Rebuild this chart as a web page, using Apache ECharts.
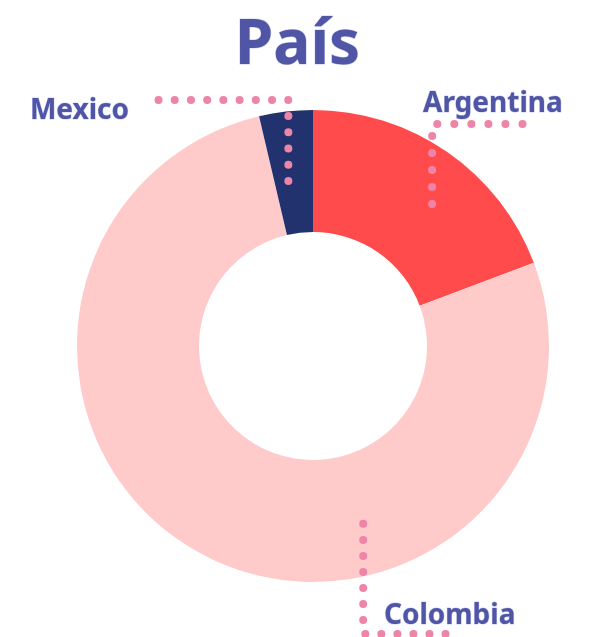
<!DOCTYPE html>
<html><head><meta charset="utf-8">
<script src="https://cdn.jsdelivr.net/npm/echarts@6/dist/echarts.min.js"></script>
<style>html,body{margin:0;padding:0;background:#fff}#c{width:595px;height:637px}</style>
</head><body><div id="c"></div>
<script>
const titleText = 'País';
const categories = ['Argentina', 'Colombia', 'Mexico'];
const values = [21, 84, 4];
const colors = ['#ff4b4b', '#fecbca', '#22326e'];

// label / leader-line layout (style config, pixels)
const labelCfg = [
  { frac: 0.577, rf: 0.785, lineY: 124, endX: 523, x: 423, y: 104, align: 'left' },
  { frac: 0.342, rf: 0.783, lineY: 634, endX: 446, x: 384, y: 616, align: 'left' },
  { frac: 0.357, rf: 0.707, lineY: 100, endX: 158, x: 129, y: 111, align: 'right' }
];
const dotGap = 16.5;

const textColor = '#5055a5';
const font = 'Noto Sans';
const chart = echarts.init(document.getElementById('c'), null, { renderer: 'canvas' });

function linePoints(seriesIndex, i) {
  const cfg = labelCfg[i];
  let lay = null;
  try { lay = chart.getModel().getSeriesByIndex(seriesIndex).getData().getItemLayout(i); } catch (e) {}
  if (!lay) return null;
  const a = lay.startAngle + (lay.endAngle - lay.startAngle) * cfg.frac;
  const r = lay.r * cfg.rf;
  const sx = lay.cx + r * Math.cos(a);
  const sy = lay.cy + r * Math.sin(a);
  return [[sx, sy], [sx, cfg.lineY], [cfg.endX, cfg.lineY]];
}

function layoutLabel(params) {
  const cfg = labelCfg[params.dataIndex];
  const pts = linePoints(params.seriesIndex, params.dataIndex);
  if (!pts) return {};
  return { x: cfg.x, y: cfg.y, align: cfg.align, verticalAlign: 'middle', labelLinePoints: pts };
}

const lineStyleBase = { color: '#ef84a9', width: 8, cap: 'round', opacity: 1 };
function labelData(gaps) {
  return categories.map((c, i) => ({
    name: c, value: values[i], itemStyle: { color: 'rgba(0,0,0,0)' },
    labelLine: { lineStyle: Object.assign({}, lineStyleBase, { type: [0, gaps ? gaps[i] : dotGap] }) }
  }));
}

const pieBase = {
  type: 'pie',
  center: [313, 346],
  radius: [114, 236],
  startAngle: 90,
  clockwise: true,
  avoidLabelOverlap: false,
  emphasis: { disabled: true }
};

chart.setOption({
  animation: false,
  title: {
    text: titleText, left: 'center', top: 10,
    textStyle: { fontFamily: font, fontWeight: 'bold', fontSize: 62, color: textColor,
      textBorderColor: 'rgba(130,150,230,0.45)', textBorderWidth: 1 }
  },
  series: [
    Object.assign({}, pieBase, {
      z: 2,
      data: categories.map((c, i) => ({ name: c, value: values[i], itemStyle: { color: colors[i] } })),
      label: { show: false },
      labelLine: { show: false }
    }),
    Object.assign({}, pieBase, {
      z: 5,
      silent: true,
      data: labelData(null),
      label: {
        show: true, formatter: '{b}',
        fontFamily: font, fontWeight: 'bold', fontSize: 28, color: textColor,
        textBorderColor: 'rgba(130,150,230,0.45)', textBorderWidth: 1
      },
      labelLine: { show: true, smooth: false, lineStyle: Object.assign({ type: [0, dotGap] }, lineStyleBase) },
      labelLayout: layoutLabel
    })
  ]
});

// fit the dot spacing so each dotted leader ends on a dot
const gaps = categories.map((c, i) => {
  const pts = linePoints(1, i);
  if (!pts) return dotGap;
  let L = 0;
  for (let k = 1; k < pts.length; k++) L += Math.hypot(pts[k][0] - pts[k - 1][0], pts[k][1] - pts[k - 1][1]);
  return (L - 0.5) / Math.max(1, Math.round(L / dotGap));
});
chart.setOption({ series: [{}, { data: labelData(gaps) }] });
</script></body></html>
